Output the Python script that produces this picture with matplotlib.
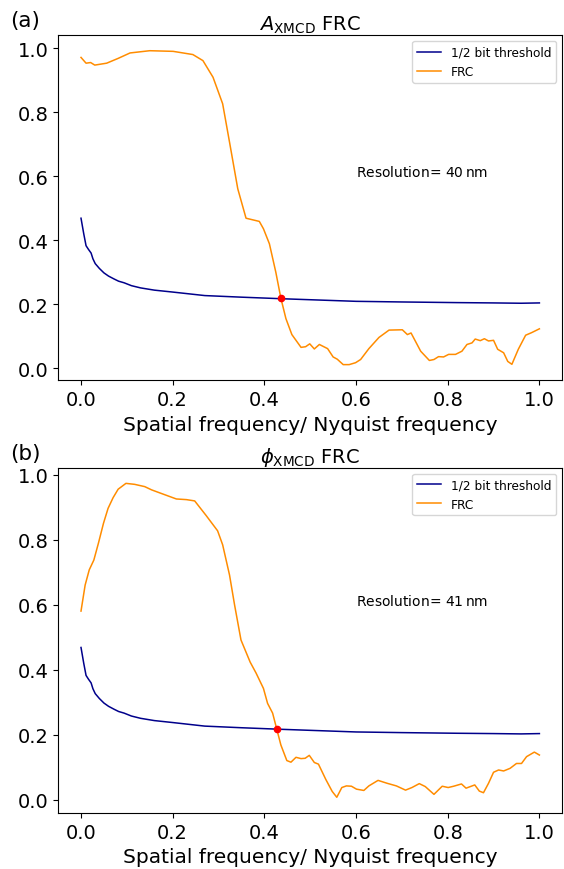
import matplotlib
matplotlib.use("Agg")
import matplotlib.pyplot as plt

# 1/2 bit threshold (same in both panels)
thr_x = [0.0, 0.006, 0.011, 0.016, 0.022, 0.026, 0.031, 0.04, 0.05, 0.06, 0.072, 0.082, 0.094, 0.11,
         0.13, 0.16, 0.2, 0.27, 0.35, 0.44, 0.52, 0.6, 0.7, 0.82, 0.9, 0.96, 1.0]
thr_y = [0.469, 0.42, 0.383, 0.372, 0.36, 0.342, 0.327, 0.312, 0.298, 0.288, 0.279, 0.272, 0.267, 0.258,
         0.251, 0.244, 0.238, 0.227, 0.222, 0.217, 0.213, 0.209, 0.207, 0.205, 0.204, 0.203, 0.204]

# (a) A_XMCD FRC
frc_a_x = [0.0, 0.011, 0.021, 0.030, 0.056, 0.081, 0.107, 0.150, 0.201, 0.244, 0.266, 0.288, 0.309,
           0.324, 0.342, 0.360, 0.389, 0.398, 0.411, 0.425, 0.436, 0.447, 0.460, 0.480, 0.490, 0.499,
           0.509, 0.520, 0.538, 0.550, 0.559, 0.572, 0.585, 0.599, 0.610, 0.628, 0.650, 0.672, 0.701,
           0.712, 0.720, 0.741, 0.760, 0.770, 0.780, 0.791, 0.802, 0.817, 0.831, 0.842, 0.853, 0.860,
           0.871, 0.880, 0.889, 0.900, 0.909, 0.922, 0.931, 0.940, 0.954, 0.970, 0.983, 1.0]
frc_a_y = [0.972, 0.954, 0.956, 0.948, 0.954, 0.969, 0.986, 0.993, 0.991, 0.981, 0.962, 0.910, 0.827,
           0.707, 0.561, 0.469, 0.459, 0.436, 0.389, 0.300, 0.219, 0.155, 0.105, 0.065, 0.067, 0.076,
           0.060, 0.074, 0.061, 0.035, 0.028, 0.011, 0.011, 0.017, 0.027, 0.061, 0.096, 0.119, 0.120,
           0.105, 0.110, 0.053, 0.024, 0.027, 0.036, 0.035, 0.043, 0.043, 0.053, 0.074, 0.079, 0.091,
           0.086, 0.092, 0.085, 0.087, 0.059, 0.048, 0.021, 0.012, 0.059, 0.103, 0.111, 0.123]

# (b) phi_XMCD FRC
frc_b_x = [0.0, 0.009, 0.018, 0.028, 0.038, 0.049, 0.059, 0.070, 0.081, 0.098, 0.117, 0.139, 0.154,
           0.179, 0.208, 0.230, 0.248, 0.273, 0.298, 0.309, 0.324, 0.335, 0.349, 0.369, 0.382, 0.398,
           0.407, 0.418, 0.427, 0.436, 0.449, 0.458, 0.469, 0.480, 0.489, 0.498, 0.509, 0.518, 0.534,
           0.548, 0.558, 0.569, 0.579, 0.590, 0.601, 0.617, 0.628, 0.648, 0.668, 0.688, 0.708, 0.722,
           0.738, 0.751, 0.770, 0.788, 0.801, 0.813, 0.830, 0.840, 0.859, 0.869, 0.878, 0.889, 0.900,
           0.911, 0.922, 0.936, 0.950, 0.961, 0.972, 0.989, 1.0]
frc_b_y = [0.581, 0.661, 0.708, 0.738, 0.790, 0.851, 0.897, 0.930, 0.956, 0.974, 0.971, 0.964, 0.954,
           0.941, 0.926, 0.924, 0.920, 0.875, 0.828, 0.785, 0.692, 0.600, 0.492, 0.424, 0.390, 0.343,
           0.297, 0.267, 0.218, 0.169, 0.121, 0.116, 0.131, 0.127, 0.128, 0.137, 0.115, 0.110, 0.063,
           0.026, 0.008, 0.038, 0.043, 0.042, 0.033, 0.029, 0.043, 0.060, 0.051, 0.043, 0.030, 0.038,
           0.050, 0.041, 0.017, 0.042, 0.038, 0.042, 0.049, 0.036, 0.046, 0.027, 0.022, 0.051, 0.085,
           0.092, 0.089, 0.097, 0.112, 0.112, 0.133, 0.147, 0.138]

# crossing points
cross_a = (0.436, 0.218)
cross_b = (0.427, 0.218)

panels = [
    (r"$A_{\rm XMCD}$ FRC", frc_a_x, frc_a_y, cross_a, r"Resolution= 40$\,$nm"),
    (r"$\phi_{\rm XMCD}$ FRC", frc_b_x, frc_b_y, cross_b, r"Resolution= 41$\,$nm"),
]

fig, axes = plt.subplots(2, 1, figsize=(5.64, 8.7), dpi=100)
fig.subplots_adjust(left=0.103, right=0.997, top=0.9586, bottom=0.0644, hspace=0.253)

for ax, (title, fx, fy, cross, res) in zip(axes, panels):
    ax.plot(thr_x, thr_y, color="darkblue", lw=1.1, label="1/2 bit threshold")
    ax.plot(fx, fy, color="darkorange", lw=1.1, label="FRC")
    ax.plot(cross[0], cross[1], "o", color="red", ms=4.5)
    ax.text(0.6, 0.6, res, fontsize=10)
    ax.set_title(title, fontsize=14, pad=2.5)
    ax.set_xlabel("Spatial frequency/ Nyquist frequency", fontsize=14.5)
    ax.tick_params(labelsize=14)
    ax.set_xticks([0.0, 0.2, 0.4, 0.6, 0.8, 1.0])
    ax.set_yticks([0.0, 0.2, 0.4, 0.6, 0.8, 1.0])
    ax.legend(loc="upper right", fontsize=8.7)

fig.text(0.018, 0.9684, "(a)", fontsize=15.5, va="baseline")
fig.text(0.018, 0.471, "(b)", fontsize=15.5, va="baseline")

plt.savefig("out.png", dpi=100)
